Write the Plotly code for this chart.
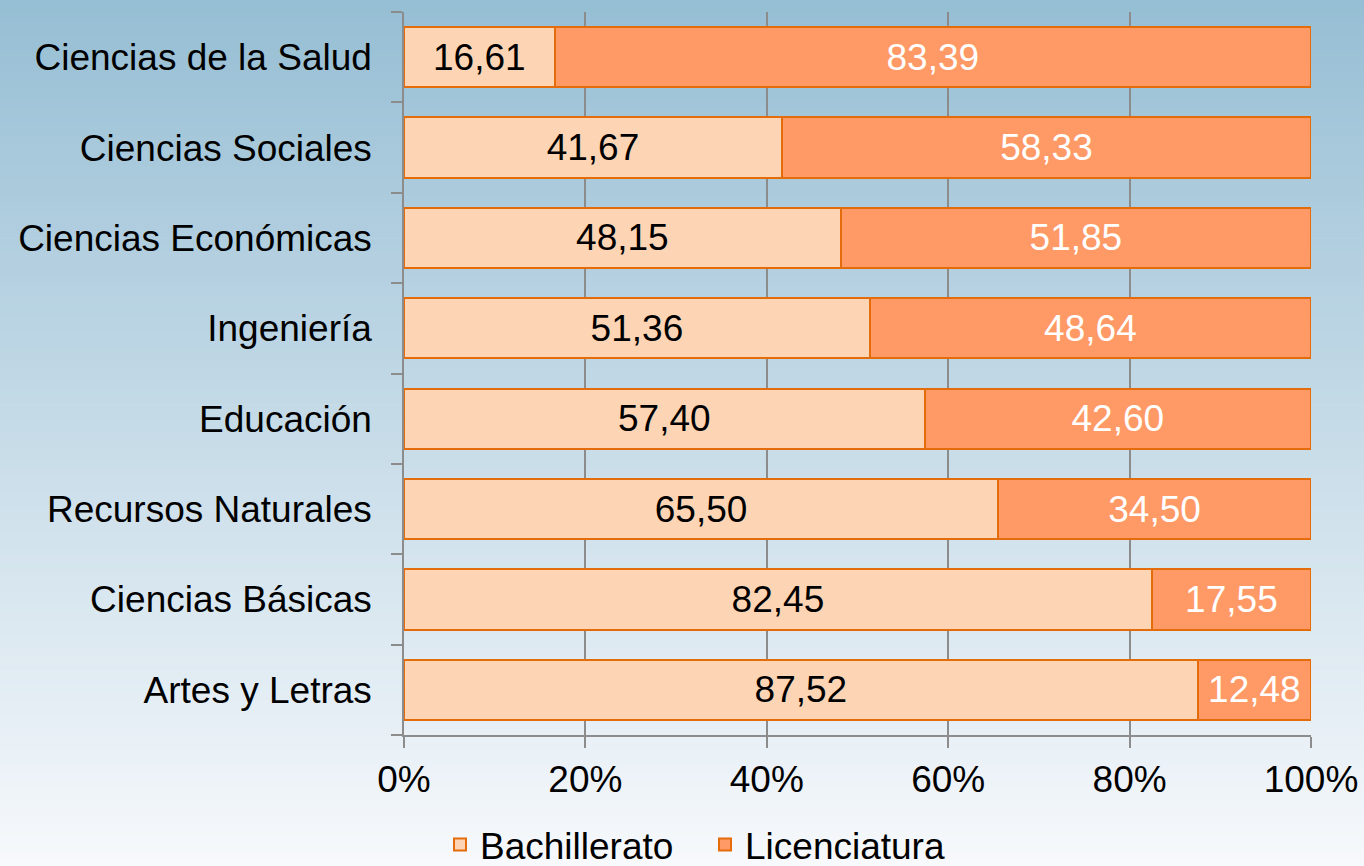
import plotly.graph_objects as go

categories = ["Artes y Letras", "Ciencias Básicas", "Recursos Naturales", "Educación",
              "Ingeniería", "Ciencias Económicas", "Ciencias Sociales", "Ciencias de la Salud"]
bachillerato = [87.52, 82.45, 65.50, 57.40, 51.36, 48.15, 41.67, 16.61]
licenciatura = [12.48, 17.55, 34.50, 42.60, 48.64, 51.85, 58.33, 83.39]
x_ticks = [0, 20, 40, 60, 80, 100]
x_tick_labels = ["0%", "20%", "40%", "60%", "80%", "100%"]

W, H = 1364, 866
ml, mr, mt, mb = 404, 53, 12, 131
pw, ph = W - ml - mr, H - mt - mb

border = "#E46C0A"
font_family = "Liberation Sans, Arial, sans-serif"
FS = 37

fig = go.Figure()
fig.add_trace(go.Bar(
    y=categories, x=bachillerato, orientation="h", name="Bachillerato",
    marker=dict(color="#FDD5B4", line=dict(color=border, width=2)),
    texttemplate="%{x:.2f}", textposition="inside", insidetextanchor="middle",
    textangle=0, textfont=dict(color="black", size=FS, family=font_family),
    hoverinfo="skip",
))
fig.add_trace(go.Bar(
    y=categories, x=licenciatura, orientation="h", name="Licenciatura",
    marker=dict(color="#FF9966", line=dict(color=border, width=2)),
    texttemplate="%{x:.2f}", textposition="inside", insidetextanchor="middle",
    textangle=0, textfont=dict(color="white", size=FS, family=font_family),
    hoverinfo="skip",
))

# gradient background via thin strips
top = (150, 190, 212)
bot = (247, 249, 252)
n = 120
shapes = []
x0 = -ml / pw
x1 = 1 + mr / pw
for i in range(n):
    t0 = i / n
    t1 = (i + 1) / n
    t = (i + 0.5) / n
    c = tuple(round(top[k] + (bot[k] - top[k]) * t) for k in range(3))
    ytop = 1 + mt / ph - t0 * H / ph
    ybot = 1 + mt / ph - t1 * H / ph
    shapes.append(dict(type="rect", xref="paper", yref="paper", x0=x0, x1=x1,
                       y0=ybot - 0.001, y1=ytop, fillcolor="rgb(%d,%d,%d)" % c,
                       line=dict(width=0), layer="below"))

fig.update_layout(
    width=W, height=H,
    margin=dict(l=ml, r=mr, t=mt, b=mb, pad=0, autoexpand=False),
    barmode="stack", bargap=1/3,
    separators=",.",
    paper_bgcolor="rgb(247,249,252)",
    plot_bgcolor="rgba(0,0,0,0)",
    shapes=shapes,
    font=dict(family=font_family, size=FS, color="black"),
    showlegend=True,
    legend=dict(orientation="h", x=(440 - ml) / pw, xanchor="left",
                y=(735 - 845) / ph, yanchor="middle", entrywidth=220,
                font=dict(size=FS, family=font_family), bgcolor="rgba(0,0,0,0)",
                traceorder="normal"),
)
fig.update_xaxes(
    range=[0, 100], tickmode="array", tickvals=x_ticks, ticktext=x_tick_labels,
    showgrid=True, gridcolor="#8C8C8C", gridwidth=1.5,
    showline=True, linecolor="#8C8C8C", linewidth=1.5,
    ticks="outside", ticklen=11, tickcolor="#8C8C8C", tickwidth=1.5,
    tickfont=dict(size=FS), zeroline=False, fixedrange=True,
)
fig.update_yaxes(
    categoryorder="array", categoryarray=categories,
    showline=True, linecolor="#8C8C8C", linewidth=1.5,
    ticks="outside", ticklen=11, tickcolor="#8C8C8C", tickwidth=1.5,
    tickson="boundaries", showgrid=False, ticklabelstandoff=23,
    tickfont=dict(size=FS), fixedrange=True,
)

fig.write_html("out.html", config={"displayModeBar": False},
               post_script="document.body.style.margin='0';document.body.style.overflow='hidden';")
